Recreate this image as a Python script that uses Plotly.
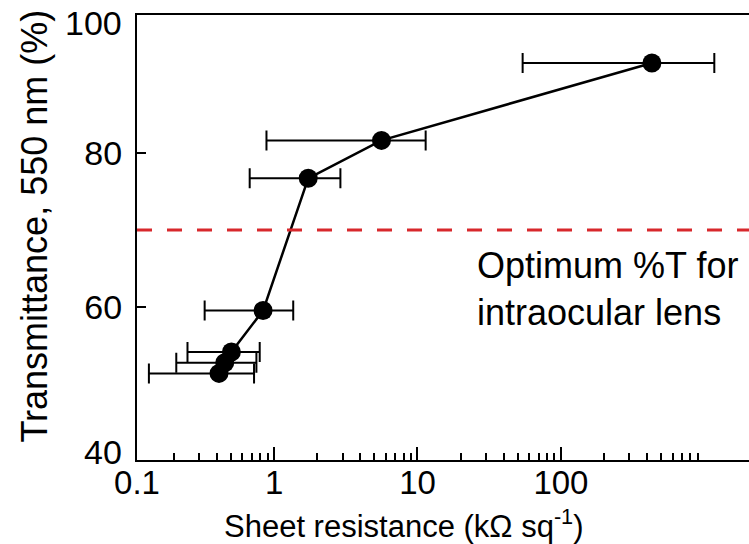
import numpy as np
import plotly.graph_objects as go

# ---- data ----
sheet_res = [0.413, 0.453, 0.504, 0.838, 1.73, 5.61, 431.0]          # kOhm/sq
transmit = [51.3, 52.7, 54.1, 59.5, 76.75, 81.7, 91.8]               # %
res_low = [0.134, 0.208, 0.249, 0.328, 0.676, 0.885, 54.1]           # error-bar left end
res_high = [0.725, 0.753, 0.794, 1.36, 2.90, 11.4, 1174.0]           # error-bar right end
optimum_T = 70

x_tick_vals = [0.1107, 1, 10, 100]
x_tick_text = ["0.1", "1", "10", "100"]
y_tick_vals = [60, 80]
y_tick_text = ["60", "80"]
y_corner_text = ["40", "100"]          # labels at the bottom / top corners of the frame
x_range = [0.1107, 2049]
y_range = [40, 98.06]

x_title = "Sheet resistance (kΩ sq<sup>-1</sup>)"
y_title = "Transmittance, 550 nm (%)"
note = "Optimum %T for<br>intraocular lens"

FONT = "Liberation Sans, Arial, sans-serif"

err_plus = [h - v for h, v in zip(res_high, sheet_res)]
err_minus = [v - l for v, l in zip(sheet_res, res_low)]

minor_vals = [k * 10.0 ** d for d in range(-1, 3) for k in range(2, 10)
              if x_range[0] < k * 10.0 ** d < 1000]

fig = go.Figure()
fig.add_trace(go.Scatter(
    x=sheet_res, y=transmit, mode="lines+markers",
    line=dict(color="black", width=2.5),
    marker=dict(color="black", size=19),
    error_x=dict(type="data", symmetric=False, array=err_plus, arrayminus=err_minus,
                 color="black", thickness=2, width=10),
    showlegend=False, cliponaxis=False,
))

fig.add_shape(type="line", xref="paper", x0=0, x1=1, yref="y", y0=optimum_T, y1=optimum_T,
              line=dict(color="#d8282c", width=3, dash="15px,15px"))

fig.add_annotation(text=note, xref="paper", x=0.5516,
                   yref="y", y=62.3, xanchor="left", yanchor="middle", align="left",
                   showarrow=False, font=dict(family=FONT, size=36, color="black"))

# corner labels of the y axis (offset inwards from the frame corners, as in the reference)
for txt, ypos in zip(y_corner_text, [0.018, 0.982]):
    fig.add_annotation(text=txt, xref="paper", x=-0.022, yref="paper", y=ypos,
                       xanchor="right", yanchor="middle", showarrow=False,
                       font=dict(family=FONT, size=34, color="black"))

# axis titles placed as annotations to match the reference's positions
fig.add_annotation(text=x_title, xref="paper", x=0.436, yref="paper", y=-0.143,
                   xanchor="center", yanchor="middle", showarrow=False,
                   font=dict(family=FONT, size=31, color="black"))
fig.add_annotation(text=y_title, xref="paper", x=-0.1672, yref="paper", y=0.526,
                   xanchor="center", yanchor="middle", textangle=-90, showarrow=False,
                   font=dict(family=FONT, size=36, color="black"))

fig.update_xaxes(
    type="log", range=[np.log10(x_range[0]), np.log10(x_range[1])],
    tickmode="array", tickvals=x_tick_vals, ticktext=x_tick_text,
    ticks="inside", ticklen=13, tickwidth=2, tickcolor="black",
    minor=dict(tickmode="array", tickvals=minor_vals, ticks="inside", ticklen=7,
               tickwidth=1.5, tickcolor="black", showgrid=False),
    showline=True, linecolor="black", linewidth=2, mirror=True,
    showgrid=False, zeroline=False,
    tickfont=dict(family=FONT, size=33, color="black"),
    ticklabelstandoff=-8, ticklabeloverflow="allow",
    automargin=False,
)
fig.update_yaxes(
    range=y_range, tickmode="array", tickvals=y_tick_vals, ticktext=y_tick_text,
    ticks="inside", ticklen=9, tickwidth=2, tickcolor="black",
    showline=True, linecolor="black", linewidth=2, mirror=False,
    showgrid=False, zeroline=False,
    tickfont=dict(family=FONT, size=34, color="black"),
    ticklabelstandoff=6, ticklabeloverflow="allow",
    automargin=False,
)

fig.update_layout(
    width=749, height=544,
    margin=dict(l=137, r=0, t=15, b=84),
    paper_bgcolor="white", plot_bgcolor="white",
    font=dict(family=FONT, color="black"),
)

fig.write_html("out.html")
